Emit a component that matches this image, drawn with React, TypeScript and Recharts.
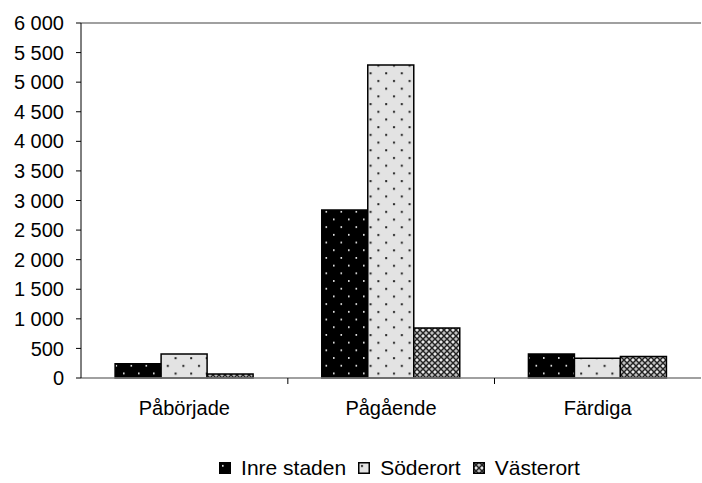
import React from 'react';
import { BarChart, Bar, XAxis, YAxis, Legend, ReferenceLine } from 'recharts';

const categories = ['Påbörjade', 'Pågående', 'Färdiga'];
const inreStaden = [240, 2840, 405];
const soderort = [405, 5290, 335];
const vasterort = [68, 845, 365];
const yTicks = [0, 500, 1000, 1500, 2000, 2500, 3000, 3500, 4000, 4500, 5000, 5500, 6000];

const seriesNames = ['Inre staden', 'Söderort', 'Västerort'];
const seriesFills = ['url(#pInre)', 'url(#pSoder)', 'url(#pVaster)'];

const data = categories.map((name, i) => ({
  name,
  inre: inreStaden[i],
  soder: soderort[i],
  vaster: vasterort[i],
}));

const FONT = 'Liberation Sans, Arial, sans-serif';

// format like "6 000"
const fmt = (v: number) => String(v).replace(/\B(?=(\d{3})+(?!\d))/g, ' ');

// category tick: label in the middle, tick mark at the right boundary of the band
const CatTick = (props: any) => {
  const { x, y, payload, index } = props;
  const half = 207 / 2;
  return (
    <g>
      {index < categories.length - 1 && (
        <line x1={x + half} x2={x + half} y1={y - 8} y2={y - 2} stroke="#000" />
      )}
      <text x={x} y={y + 29} textAnchor="middle" fill="#000" fontSize={20} fontFamily={FONT}>
        {payload.value}
      </text>
    </g>
  );
};

const LegendBox = () => (
  <div
    style={{
      display: 'flex',
      justifyContent: 'center',
      alignItems: 'center',
      fontFamily: FONT,
      fontSize: 21,
      color: '#000',
      paddingLeft: 110,
    }}
  >
    {seriesNames.map((n, i) => (
      <span key={n} style={{ display: 'inline-flex', alignItems: 'center', marginRight: 12 }}>
        <svg width={12} height={12} style={{ marginRight: 10 }}>
          <rect x={0.75} y={0.75} width={10.5} height={10.5} fill={seriesFills[i]} stroke="#000" strokeWidth={1.5} />
        </svg>
        {n}
      </span>
    ))}
  </div>
);

export default function App() {
  return (
    <div style={{ position: 'absolute', left: 0, top: 0, background: '#fff' }}>
      <BarChart
        width={702}
        height={483}
        data={data}
        margin={{ top: 23, right: 1, left: 0, bottom: 0 }}
        barCategoryGap="16.5%"
        barGap={0}
      >
        <defs>
          <pattern id="pInre" width="15" height="15.4" patternUnits="userSpaceOnUse">
            <rect width="15" height="15.4" fill="#000" />
            <rect x="3" y="3" width="1.6" height="1.6" fill="#fff" />
            <rect x="10.5" y="10.7" width="1.6" height="1.6" fill="#fff" />
          </pattern>
          <pattern id="pSoder" width="15.6" height="15.4" patternUnits="userSpaceOnUse">
            <rect width="15.6" height="15.4" fill="#e3e3e3" />
            <rect x="3" y="3" width="2" height="2" fill="#222" />
            <rect x="10.8" y="10.7" width="2" height="2" fill="#222" />
          </pattern>
          <pattern id="pVaster" width="6" height="6" patternUnits="userSpaceOnUse">
            <rect width="6" height="6" fill="#bdbdbd" />
            <path d="M0 0 L6 6 M6 0 L0 6" stroke="#222" strokeWidth="1.3" />
            <rect x="2.2" y="-0.8" width="1.6" height="1.6" fill="#fff" />
            <rect x="2.2" y="5.2" width="1.6" height="1.6" fill="#fff" />
          </pattern>
        </defs>
        <XAxis
          dataKey="name"
          stroke="#808080"
          strokeWidth={1.5}
          tickLine={false}
          tick={<CatTick />}
          height={78}
          interval={0}
        />
        <YAxis
          domain={[0, 6000]}
          ticks={yTicks}
          tickFormatter={fmt}
          stroke="#000"
          tick={{ fill: '#000', fontSize: 20, fontFamily: FONT }}
          tickSize={5}
          tickMargin={12}
          width={81}
          interval={0}
        />
        <ReferenceLine y={6000} stroke="#808080" strokeWidth={1.5} />
        <Bar dataKey="inre" name={seriesNames[0]} fill={seriesFills[0]} stroke="#000" strokeWidth={1.5} isAnimationActive={false} />
        <Bar dataKey="soder" name={seriesNames[1]} fill={seriesFills[1]} stroke="#000" strokeWidth={1.5} isAnimationActive={false} />
        <Bar dataKey="vaster" name={seriesNames[2]} fill={seriesFills[2]} stroke="#000" strokeWidth={1.5} isAnimationActive={false} />
        <Legend verticalAlign="bottom" height={27} content={<LegendBox />} />
      </BarChart>
    </div>
  );
}
